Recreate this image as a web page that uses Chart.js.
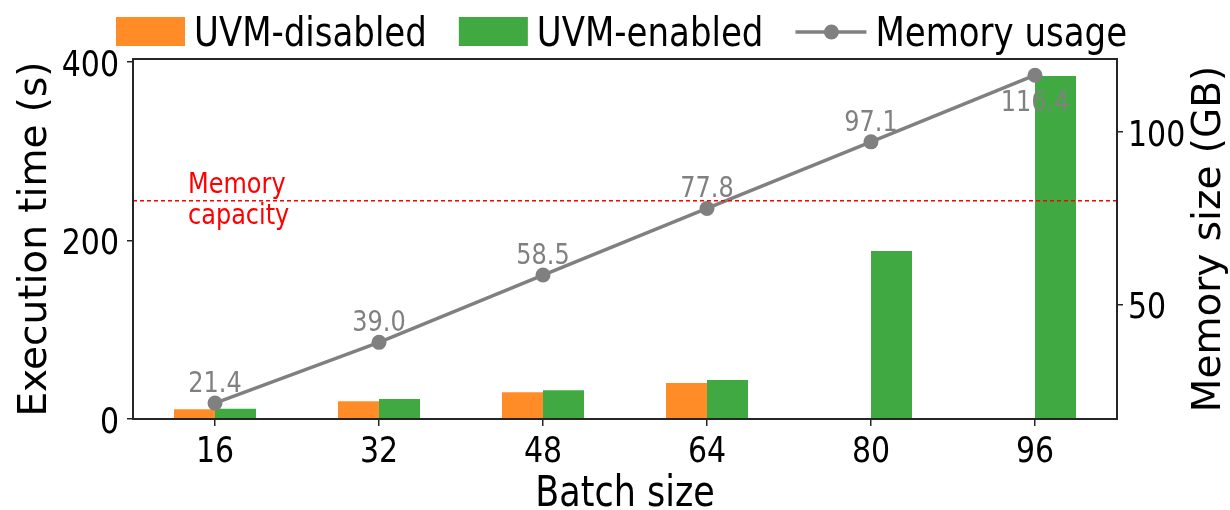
<!DOCTYPE html>
<html>
<head>
<meta charset="utf-8">
<script src="https://cdn.jsdelivr.net/npm/chart.js@4.4.1/dist/chart.umd.min.js"></script>
<style>
  body { margin: 0; background: #fff; }
  #wrap { width: 1230px; height: 510px; }
</style>
</head>
<body>
<div id="wrap"><canvas id="mycanvas"></canvas></div>
<script>
var batchSizes = ['16', '32', '48', '64', '80', '96'];
var uvmDisabled = [10.9, 19.9, 29.9, 40.3, null, null];
var uvmEnabled = [11.5, 22.4, 32.1, 43.7, 188, 384];
var memoryUsage = [21.4, 39.0, 58.5, 77.8, 97.1, 116.4];
var memoryCapacity = 80;
var timeTicks = [0, 200, 400];
var memTicks = [50, 100];

var FONT = "'DejaVu Sans', sans-serif";
var ORANGE = 'rgba(255, 127, 14, 0.9)';
var GREEN = 'rgba(44, 160, 44, 0.9)';
var GREY = '#808080';
var SPINE = '#262626';
var STRETCH = 1.2; // text in the picture is a bit taller than wide

function tallText(ctx, txt, x, y) {
  ctx.save();
  ctx.translate(x, y);
  ctx.scale(1, STRETCH);
  ctx.fillText(txt, 0, 0);
  ctx.restore();
}

// capacity line, point labels, frame, tick labels and titles
var extras = {
  id: 'extras',
  afterDatasetsDraw: function(chart) {
    var ctx = chart.ctx, a = chart.chartArea;
    var xs = chart.scales.x, ys = chart.scales.y, y1 = chart.scales.y1;
    var yc = y1.getPixelForValue(memoryCapacity);
    ctx.save();
    ctx.strokeStyle = 'red';
    ctx.lineWidth = 1.5;
    ctx.setLineDash([4, 3]);
    ctx.beginPath();
    ctx.moveTo(a.left, yc);
    ctx.lineTo(a.right, yc);
    ctx.stroke();
    ctx.setLineDash([]);

    ctx.fillStyle = 'red';
    ctx.font = '24px ' + FONT;
    ctx.textAlign = 'left';
    ctx.textBaseline = 'alphabetic';
    tallText(ctx, 'Memory', a.left + 55, yc - 8);
    tallText(ctx, 'capacity', a.left + 55, yc + 23);

    var meta = chart.getDatasetMeta(2);
    ctx.fillStyle = GREY;
    ctx.textAlign = 'center';
    meta.data.forEach(function(pt, i) {
      var last = i === memoryUsage.length - 1;
      tallText(ctx, memoryUsage[i].toFixed(1), pt.x, last ? pt.y + 36 : pt.y - 11);
    });

    ctx.strokeStyle = SPINE;
    ctx.lineWidth = 2;
    ctx.strokeRect(a.left, a.top, a.right - a.left, a.bottom - a.top);

    // tick labels
    ctx.fillStyle = '#000';
    ctx.font = '30px ' + FONT;
    ctx.textAlign = 'center';
    batchSizes.forEach(function(lbl, i) {
      tallText(ctx, lbl, xs.getPixelForValue(i), a.bottom + 43);
    });
    ctx.textAlign = 'right';
    timeTicks.forEach(function(v) {
      tallText(ctx, String(v), a.left - 14, ys.getPixelForValue(v) + 14);
    });
    ctx.textAlign = 'left';
    memTicks.forEach(function(v) {
      tallText(ctx, String(v), a.right + 11, y1.getPixelForValue(v) + 14);
    });

    // x title
    ctx.font = '35px ' + FONT;
    ctx.textAlign = 'center';
    tallText(ctx, 'Batch size', (a.left + a.right) / 2, 506);

    // right axis title reads bottom to top
    ctx.font = '39px ' + FONT;
    ctx.textBaseline = 'middle';
    ctx.translate(y1.right - 20, (a.top + a.bottom) / 2);
    ctx.rotate(-Math.PI / 2);
    ctx.fillText('Memory size (GB)', 0, 0);
    ctx.restore();
  },
  afterDraw: function(chart) {
    var ctx = chart.ctx;
    var ds = chart.data.datasets;
    var x = 116;
    ctx.save();
    ctx.font = '34px ' + FONT;
    ctx.textAlign = 'left';
    ctx.textBaseline = 'alphabetic';
    for (var i = 0; i < ds.length; i++) {
      if (ds[i].type === 'line') {
        ctx.strokeStyle = ds[i].borderColor;
        ctx.lineWidth = ds[i].borderWidth;
        ctx.beginPath();
        ctx.moveTo(x, 32);
        ctx.lineTo(x + 71, 32);
        ctx.stroke();
        ctx.fillStyle = ds[i].pointBackgroundColor;
        ctx.beginPath();
        ctx.arc(x + 36, 32, ds[i].pointRadius, 0, Math.PI * 2);
        ctx.fill();
        x += 80;
      } else {
        ctx.fillStyle = ds[i].backgroundColor;
        ctx.fillRect(x, 17, 69, 29);
        x += 78;
      }
      ctx.fillStyle = '#000';
      tallText(ctx, ds[i].label, x, 46);
      x += ctx.measureText(ds[i].label).width + 32;
    }
    ctx.restore();
  }
};

var ctx = document.getElementById('mycanvas');

var chart = new Chart(ctx, {
  data: {
    labels: batchSizes,
    datasets: [
      {
        type: 'bar',
        label: 'UVM-disabled',
        data: uvmDisabled,
        backgroundColor: ORANGE,
        yAxisID: 'y',
        categoryPercentage: 0.5,
        barPercentage: 1.0,
        order: 1
      },
      {
        type: 'bar',
        label: 'UVM-enabled',
        data: uvmEnabled,
        backgroundColor: GREEN,
        yAxisID: 'y',
        categoryPercentage: 0.5,
        barPercentage: 1.0,
        order: 1
      },
      {
        type: 'line',
        label: 'Memory usage',
        data: memoryUsage,
        borderColor: GREY,
        borderWidth: 3.5,
        pointRadius: 7.5,
        pointBackgroundColor: GREY,
        pointBorderWidth: 0,
        yAxisID: 'y1',
        order: 0
      }
    ]
  },
  options: {
    responsive: true,
    maintainAspectRatio: false,
    animation: false,
    layout: { padding: { top: 59, left: 0, right: 0, bottom: 0 } },
    plugins: {
      legend: { display: false },
      tooltip: { enabled: false }
    },
    scales: {
      x: {
        grid: { display: true, drawOnChartArea: false, drawTicks: true, tickLength: 7, offset: false, color: SPINE, lineWidth: 1.5 },
        border: { display: false },
        ticks: { display: false },
        afterFit: function(s) { s.height = 91; }
      },
      y: {
        position: 'left',
        min: 0,
        max: 403,
        grid: { display: true, drawOnChartArea: false, drawTicks: true, tickLength: 6, color: SPINE, lineWidth: 1.5 },
        border: { display: false },
        ticks: { display: false },
        afterBuildTicks: function(s) { s.ticks = timeTicks.map(function(v) { return { value: v }; }); },
        title: { display: true, text: 'Execution time (s)', color: '#000', font: { family: FONT, size: 39, lineHeight: 1 }, padding: { top: 16, bottom: 0 } },
        afterFit: function(s) { s.width = 133; }
      },
      y1: {
        position: 'right',
        min: 16.8,
        max: 121.1,
        grid: { display: true, drawOnChartArea: false, drawTicks: true, tickLength: 6, color: SPINE, lineWidth: 1.5 },
        border: { display: false },
        ticks: { display: false },
        afterBuildTicks: function(s) { s.ticks = memTicks.map(function(v) { return { value: v }; }); },
        afterFit: function(s) { s.width = 113; }
      }
    }
  },
  plugins: [extras]
});
</script>
</body>
</html>
